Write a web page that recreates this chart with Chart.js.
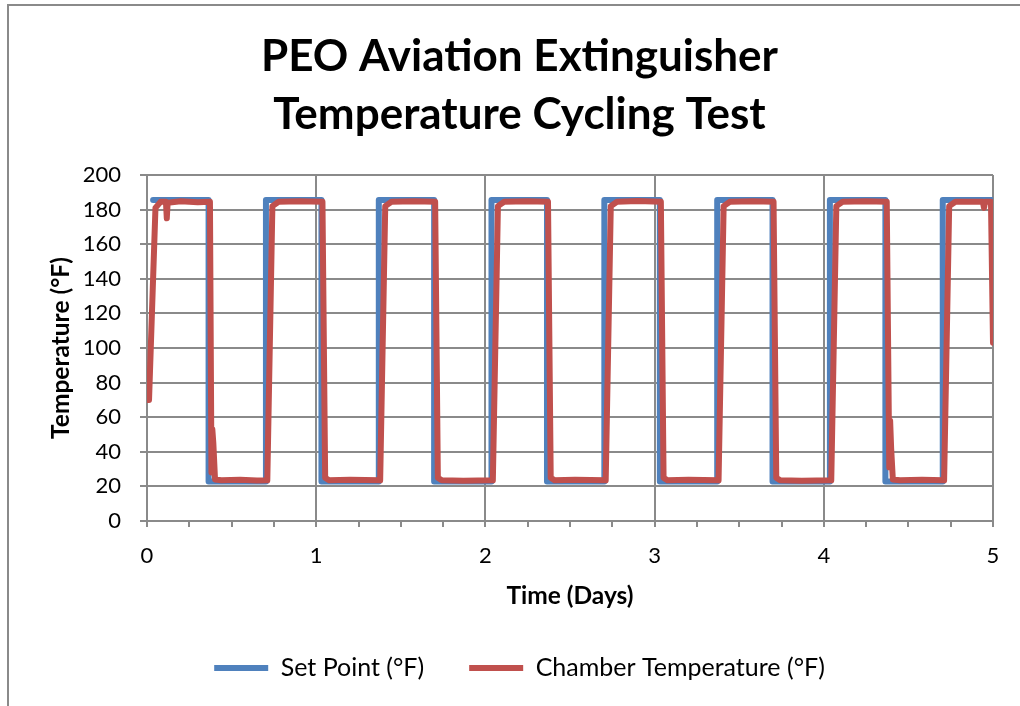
<!DOCTYPE html>
<html>
<head>
<meta charset="utf-8">
<title>PEO Aviation Extinguisher Temperature Cycling Test</title>
<script src="https://cdn.jsdelivr.net/npm/chart.js@4.4.1/dist/chart.umd.min.js"></script>
<style>
  html, body { margin: 0; padding: 0; background: #fff; overflow: hidden; }
  #frame {
    position: absolute; left: 7px; top: 4px; width: 2000px; height: 2000px;
    border-left: 2px solid #8a8a8a; border-top: 2px solid #8a8a8a;
  }
  #chartBox { position: absolute; left: 0; top: 0; width: 1020px; height: 706px; }
</style>
</head>
<body>
<div id="frame"></div>
<div id="chartBox"><canvas id="cycleChart" width="1020" height="706"></canvas></div>
<script>
// Set point (°F) – time in days
const setDays = [0.036, 0.364, 0.364, 0.703, 0.703, 1.031, 1.031, 1.370, 1.370, 1.697,
  1.697, 2.036, 2.036, 2.364, 2.364, 2.703, 2.703, 3.031, 3.031, 3.370,
  3.370, 3.697, 3.697, 4.036, 4.036, 4.364, 4.364, 4.703, 4.703, 5.0];
const setTemps = [185.5, 185.5, 22.8, 22.8, 185.5, 185.5, 22.8, 22.8, 185.5, 185.5,
  22.8, 22.8, 185.5, 185.5, 22.8, 22.8, 185.5, 185.5, 22.8, 22.8,
  185.5, 185.5, 22.8, 22.8, 185.5, 185.5, 22.8, 22.8, 185.5, 185.5];

// Chamber temperature (°F)
const chamberDays = [
  0, 0.012, 0.05, 0.08, 0.112, 0.117, 0.122, 0.2, 0.3,
  0.372, 0.381, 0.386, 0.392, 0.402, 0.44, 0.55, 0.65,
  0.711, 0.741, 0.778, 0.9,
  1.037, 1.053, 1.076, 1.2,
  1.378, 1.408, 1.445, 1.58,
  1.703, 1.719, 1.742, 1.87,
  2.044, 2.074, 2.111, 2.25,
  2.370, 2.386, 2.409, 2.53,
  2.711, 2.741, 2.778, 2.9,
  3.037, 3.053, 3.076, 3.2,
  3.378, 3.408, 3.445, 3.58,
  3.703, 3.719, 3.742, 3.87,
  4.044, 4.074, 4.111, 4.25,
  4.372, 4.387, 4.392, 4.398, 4.408, 4.45, 4.58,
  4.711, 4.741, 4.778, 4.94, 4.947, 4.953, 4.988, 5.0
];
const chamberTemps = [
  70, 70, 181, 184.5, 184.5, 175, 184, 184.8, 184.3,
  184.5, 28, 53, 45, 24, 23.5, 23.8, 23.4,
  23.5, 182, 184.5, 184.8,
  184.5, 25, 23.5, 23.8,
  23.5, 182, 184.5, 184.8,
  184.5, 25, 23.5, 23.2,
  23.5, 182, 184.5, 184.8,
  184.5, 25, 23.5, 23.9,
  23.5, 182, 184.5, 185,
  184.5, 25, 23.5, 23.8,
  23.5, 182, 184.5, 184.8,
  184.5, 25, 23.5, 23.2,
  23.5, 182, 184.5, 184.8,
  184.5, 31, 58, 42, 24, 23.5, 23.8,
  23.5, 182, 184.5, 184.5, 181, 184.5, 184.5, 103
];

const gridGray = '#8a8a8a';

const ctx = document.getElementById('cycleChart').getContext('2d');
new Chart(ctx, {
  type: 'line',
  data: {
    datasets: [{
      label: 'Set Point (°F)',
      data: setDays.map((d, i) => ({ x: d, y: setTemps[i] })),
      borderColor: '#4f81bd',
      backgroundColor: '#4f81bd',
      borderWidth: 6,
      borderCapStyle: 'round',
      borderJoinStyle: 'round',
      pointRadius: 0,
      pointStyle: 'line',
      order: 2
    }, {
      label: 'Chamber Temperature (°F)',
      data: chamberDays.map((d, i) => ({ x: d, y: chamberTemps[i] })),
      borderColor: '#c0504d',
      backgroundColor: '#c0504d',
      borderWidth: 6,
      borderCapStyle: 'round',
      borderJoinStyle: 'round',
      pointRadius: 0,
      pointStyle: 'line',
      order: 1
    }]
  },
  options: {
    responsive: false,
    devicePixelRatio: 1,
    animation: false,
    layout: { padding: { left: 46, right: 27, top: 0, bottom: 15.5 } },
    plugins: {
      title: {
        display: true,
        text: ['PEO Aviation Extinguisher', 'Temperature Cycling Test'],
        color: '#000',
        font: { family: 'Lato', size: 44, weight: 'bold', lineHeight: '58px' },
        padding: { top: 28, bottom: 31 }
      },
      legend: {
        position: 'bottom',
        labels: {
          usePointStyle: true,
          pointStyleWidth: 54,
          padding: 45,
          color: '#000',
          font: { family: 'Lato', size: 25 },
          sort: (a, b) => a.datasetIndex - b.datasetIndex
        }
      },
      tooltip: { enabled: false }
    },
    scales: {
      x: {
        type: 'linear',
        min: 0,
        max: 5,
        afterFit: (scale) => { scale.height = 89.5; },
        ticks: {
          stepSize: 0.25,
          autoSkip: false,
          maxRotation: 0,
          padding: 16,
          color: '#000',
          font: { family: 'Lato', size: 22 },
          callback: (v) => Number.isInteger(v) ? v : ''
        },
        grid: {
          color: (c) => (c.tick && Number.isInteger(c.tick.value)) ? gridGray : 'rgba(0,0,0,0)',
          tickColor: gridGray,
          lineWidth: 2,
          tickLength: 6
        },
        border: { color: gridGray, width: 2 },
        title: {
          display: true,
          text: 'Time (Days)',
          color: '#000',
          font: { family: 'Lato', size: 24.5, weight: 'bold' },
          padding: { top: 0, bottom: 0 }
        }
      },
      y: {
        min: 0,
        max: 200,
        afterFit: (scale) => { scale.width = 101; },
        ticks: {
          stepSize: 20,
          padding: 19,
          color: '#000',
          font: { family: 'Lato', size: 22 }
        },
        grid: {
          color: gridGray,
          lineWidth: 2,
          tickLength: 7
        },
        border: { color: gridGray, width: 2 },
        title: {
          display: true,
          text: 'Temperature (°F)',
          color: '#000',
          font: { family: 'Lato', size: 24.5, weight: 'bold' },
          padding: 0
        }
      }
    }
  }
});
</script>
</body>
</html>
